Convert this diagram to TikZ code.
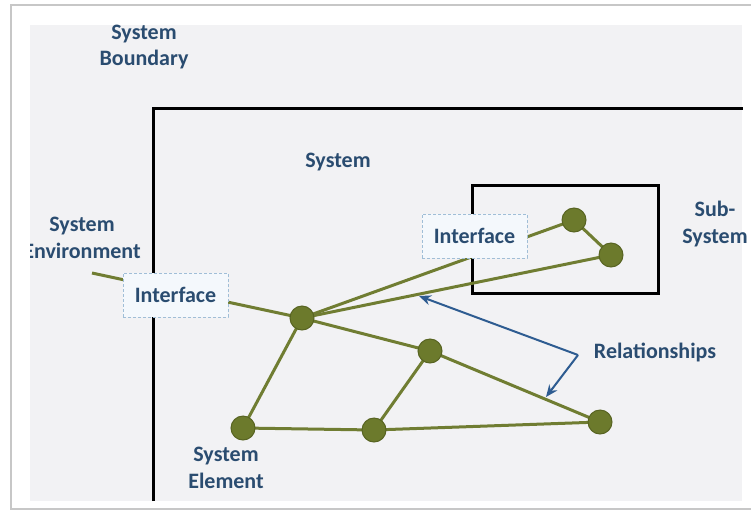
\documentclass[tikz,border=0pt]{standalone}
\usepackage{fontspec}
\setmainfont{Carlito}
\usetikzlibrary{arrows.meta}
\definecolor{txtblue}{RGB}{42,76,112}
\definecolor{olive}{RGB}{108,122,44}
\definecolor{olivedark}{RGB}{88,100,34}
\definecolor{oliveline}{RGB}{112,125,50}
\definecolor{arrowblue}{RGB}{46,92,145}
\definecolor{panelgray}{RGB}{242,242,244}
\definecolor{ifborder}{RGB}{160,190,215}
\definecolor{iffill}{RGB}{244,248,252}
\tikzset{
  lbl/.style={font=\fontsize{22}{26.5}\selectfont\bfseries, text=txtblue, align=center, inner sep=0pt},
  elem/.style={circle, fill=olive, draw=olivedark, line width=1pt, minimum size=24pt, inner sep=0pt},
  rel/.style={draw=oliveline, line width=3pt},
  ifbox/.style={draw=ifborder, densely dashed, line width=0.8pt, fill=iffill, minimum width=105pt, minimum height=44pt, inner sep=0pt, font=\fontsize{22}{26.5}\selectfont\bfseries, text=txtblue},
  bound/.style={draw=black, line width=3pt},
  pointer/.style={draw=arrowblue, line width=2pt, -{Stealth[length=12pt,width=10pt]}}
}
\begin{document}
\begin{tikzpicture}[x=1pt,y=-1pt]
\useasboundingbox (0,0) rectangle (751,517);
% card and panel
\fill[white] (0,0) rectangle (751,517);
\draw[draw=black!22, line width=2pt, fill=white] (11,5) rectangle (770,509);
\fill[panelgray] (30,25) rectangle (742,501);
\begin{scope}
\clip (30,25) rectangle (742,501);
\node[lbl] (envtxt) at (82,238) {System\\Environment};
\end{scope}
% boundaries
\draw[bound] (153,501) -- (153,108) -- (743,108);
\draw[bound] (472,185) rectangle (658,293);
% labels
\node[lbl] (boundtxt) at (144,47) {System\\Boundary};
\node[lbl] (systxt) at (338,162) {System};
\node[lbl] (subtxt) at (715,224) {Sub-\\System};
\node[lbl] (elemtxt) at (226,468) {System\\Element};
\node[lbl] (reltxt) at (655,352) {Relationships};
% element positions
\coordinate (pA) at (302,318);
\coordinate (pB) at (574,220);
\coordinate (pC) at (611,255);
\coordinate (pD) at (430,351);
\coordinate (pE) at (243,428);
\coordinate (pF) at (374,430);
\coordinate (pG) at (600,422);
\coordinate (env) at (92,273);
% relationships
\draw[rel] (env) -- (pA);
\draw[rel] (pA) -- (pB);
\draw[rel] (pA) -- (pC);
\draw[rel] (pB) -- (pC);
\draw[rel] (pA) -- (pD);
\draw[rel] (pD) -- (pG);
\draw[rel] (pA) -- (pE);
\draw[rel] (pE) -- (pF);
\draw[rel] (pF) -- (pD);
\draw[rel] (pF) -- (pG);
% interfaces
\node[ifbox] (if1) at (175.5,295) {Interface};
\node[ifbox] (if2) at (474.5,236) {Interface};
% elements
\foreach \n in {A,B,C,D,E,F,G} {\node[elem] (n\n) at (p\n) {};}
% pointers
\coordinate (corner) at (578,355);
\coordinate (tip1) at (419,296);
\coordinate (tip2) at (546,397);
\draw[pointer] (corner) -- (tip1);
\draw[pointer] (corner) -- (tip2);
\end{tikzpicture}
\end{document}
